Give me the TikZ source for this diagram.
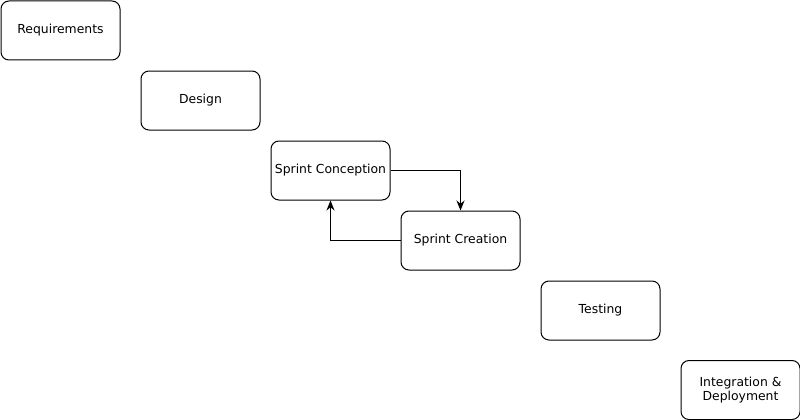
\documentclass[tikz,border=0pt]{standalone}
\usepackage{fontspec}
\setmainfont{DejaVu Sans}
\usetikzlibrary{arrows.meta}
\begin{document}
\begin{tikzpicture}[x=1pt,y=-1pt,
    phase/.style={draw,line width=1pt,rounded corners=8pt,minimum width=119pt,minimum height=59pt,
        align=center,inner sep=0pt,font=\fontsize{12.4}{15}\selectfont},
    flow/.style={line width=1pt,-{Stealth[length=10pt,width=8pt]}}]
    \useasboundingbox (0,0) rectangle (800,420);

    % Les phases en escalier
    \node[phase] (req) at (60.5,30.5) {Requirements\vphantom{p}};
    \node[phase] (des) at (200.5,100.5) {Design};
    \node[phase] (conc) at (330.5,170.5) {Sprint Conception};
    \node[phase] (crea) at (460.5,240.5) {Sprint Creation};
    \node[phase] (test) at (600.5,310.5) {Testing};
    \node[phase] (integ) at (740.5,390) {Integration \&\\[-1pt]Deployment};

    % La boucle du sprint
    \draw[flow] (conc.east) -| (crea.north);
    \draw[flow] (crea.west) -| (conc.south);
\end{tikzpicture}
\end{document}
